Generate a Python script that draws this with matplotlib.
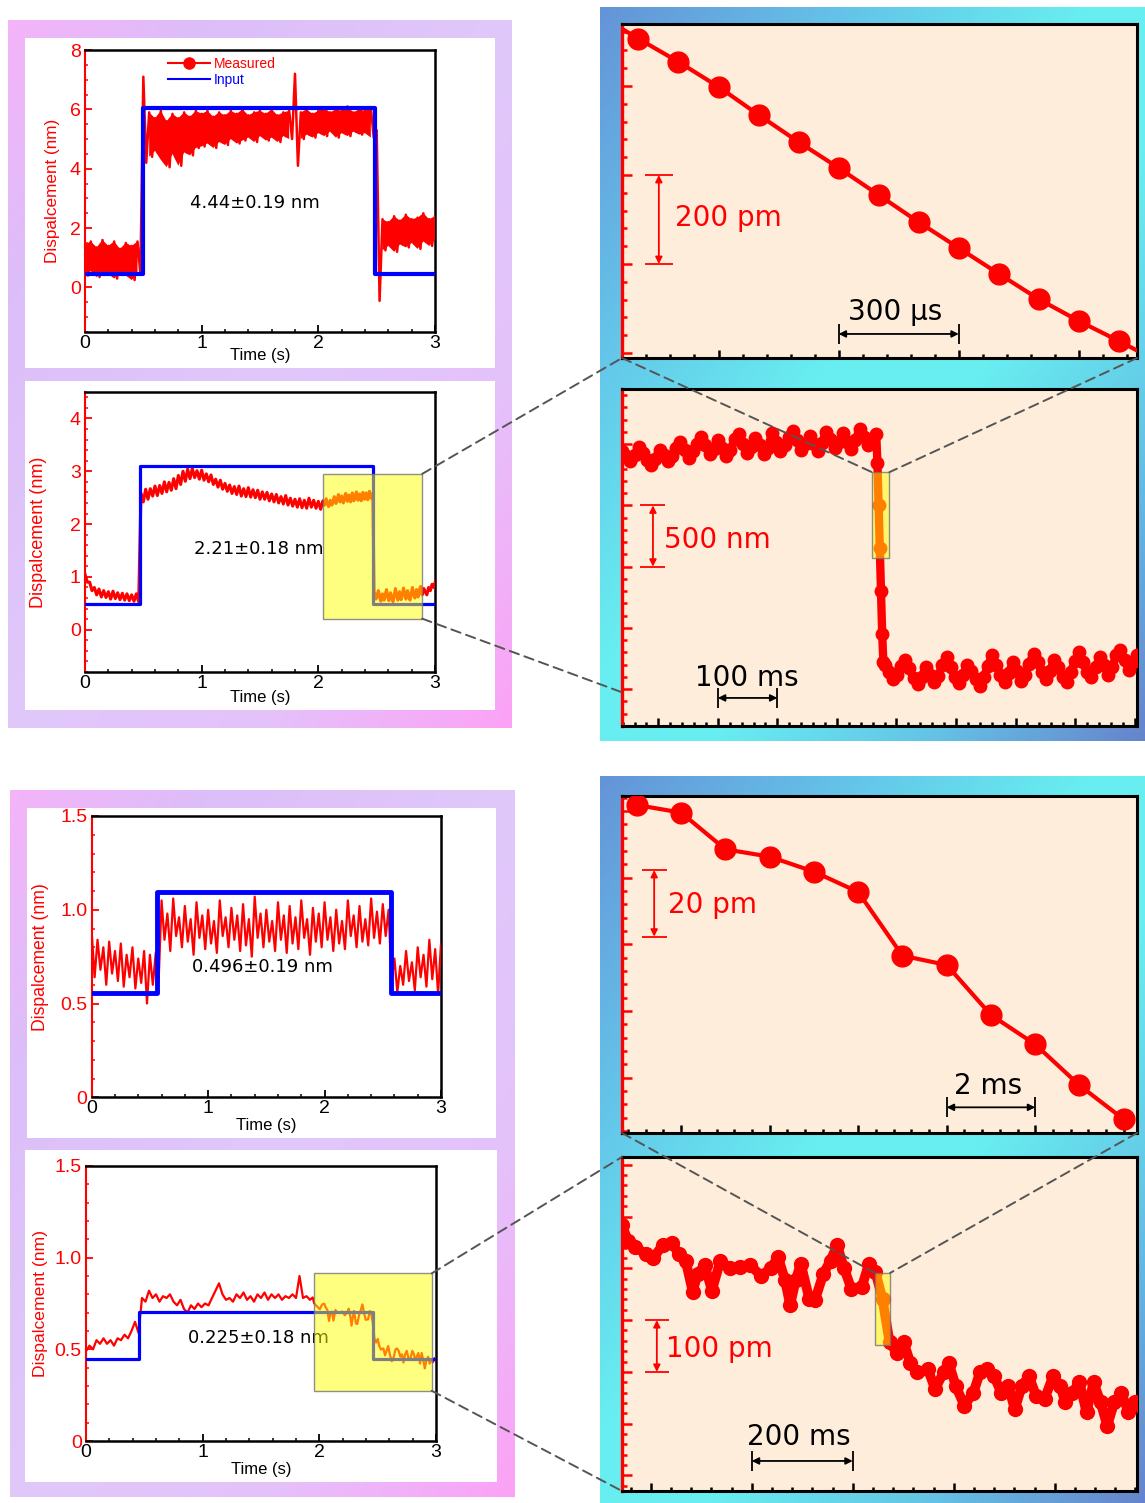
import numpy as np
import matplotlib
matplotlib.use("Agg")
import matplotlib.pyplot as plt
from matplotlib.colors import LinearSegmentedColormap
from matplotlib.patches import Rectangle, ConnectionPatch
from matplotlib.lines import Line2D
from matplotlib.ticker import MultipleLocator, FuncFormatter

plt.rcParams['font.family'] = ['Liberation Sans', 'DejaVu Sans']

# ---------------- data ----------------
# step 1 (4.44 nm): upper / lower edge of the noisy trace every 50 ms
s1_t = np.arange(61) * 0.05
s1_hi = [1.45, 1.55, 1.35, 1.60, 1.40, 1.55, 1.30, 1.50, 1.40, 1.55,
         7.10,
         5.90, 5.70, 5.95, 5.60, 5.85, 5.70, 5.90, 5.75, 5.95,
         5.85, 5.95, 5.75, 5.90, 5.80, 5.95, 5.85, 6.00, 5.80, 5.90, 5.95, 5.85, 6.00, 5.80, 5.90, 5.95,
         7.20,
         5.90, 6.00, 5.85, 5.95, 6.05, 5.90, 6.00, 5.95, 6.10, 5.90, 6.00, 5.95, 6.05,
         5.30,
         2.30, 2.20, 2.40, 2.25, 2.45, 2.30, 2.35, 2.50, 2.30, 2.40]
s1_lo = [0.40, 0.55, 0.35, 0.50, 0.45, 0.30, 0.50, 0.40, 0.25, 0.45,
         4.20,
         4.40, 4.60, 4.30, 4.05, 4.50, 4.10, 4.55, 4.45, 4.70,
         4.75, 4.85, 4.70, 4.90, 4.80, 5.00, 4.85, 4.95, 5.05, 4.90, 5.10, 4.95, 5.05, 4.90, 5.10, 5.00,
         4.10,
         5.00, 5.15, 5.05, 5.20, 5.10, 5.25, 5.05, 5.20, 5.10, 5.25, 5.15, 5.20, 5.05,
         -0.45,
         1.25, 1.40, 1.20, 1.45, 1.35, 1.50, 1.30, 1.55, 1.40, 1.60]
s1_input = (0.45, 6.05, 0.494, 2.486)      # low, high, on, off

# step 2 (2.21 nm): edges every 40 ms up to 2 s
s2_t = np.arange(51) * 0.04
s2_hi = [1.05, 0.90, 0.80, 0.77, 0.74, 0.72, 0.73, 0.70, 0.69, 0.68, 0.66, 0.68,
         2.58, 2.66, 2.67, 2.72, 2.73, 2.80, 2.79, 2.86, 2.92, 3.00, 3.04, 3.05, 3.01,
         3.02, 2.95, 2.93, 2.85, 2.83, 2.77, 2.74, 2.71, 2.72, 2.67, 2.69, 2.65, 2.64,
         2.61, 2.60, 2.57, 2.56, 2.52, 2.54, 2.49, 2.47, 2.48, 2.45, 2.49, 2.45, 2.43]
s2_lo = [0.90, 0.74, 0.66, 0.62, 0.61, 0.58, 0.59, 0.57, 0.56, 0.55, 0.54, 0.53,
         2.42, 2.47, 2.53, 2.54, 2.58, 2.61, 2.64, 2.67, 2.75, 2.81, 2.86, 2.88, 2.85,
         2.83, 2.80, 2.75, 2.70, 2.66, 2.62, 2.58, 2.56, 2.53, 2.52, 2.51, 2.50, 2.47,
         2.47, 2.44, 2.42, 2.40, 2.38, 2.36, 2.34, 2.32, 2.31, 2.30, 2.32, 2.30, 2.28]
s2_input = (0.48, 3.10, 0.471, 2.466)
s2_box = (2.04, 2.89, 0.21, 2.95)          # t0, t1, y0, y1

# step 2, 2.04-2.90 s in ms / pm
z2_upper = [2440, 2400, 2360, 2410, 2480, 2430, 2370, 2330, 2380, 2450,
            2410, 2360, 2400, 2470, 2520, 2450, 2390, 2440, 2500, 2560,
            2490, 2420, 2460, 2530, 2470, 2400, 2450, 2540, 2580, 2500,
            2430, 2480, 2550, 2490, 2420, 2470, 2590, 2520, 2440, 2490,
            2560, 2610, 2530, 2450, 2500, 2570, 2500, 2440, 2510, 2600,
            2540, 2470, 2520, 2590, 2520, 2460, 2530, 2620, 2560, 2490,
            2540, 2580]
z2_drop_t = [2468, 2470, 2472, 2474, 2476, 2478]
z2_drop = [2350, 2000, 1650, 1300, 950, 720]
z2_lower = [700, 640, 580, 620, 690, 740, 670, 590, 540, 600,
            680, 620, 560, 610, 700, 760, 680, 600, 550, 620,
            700, 650, 580, 530, 600, 690, 780, 700, 620, 560,
            630, 720, 650, 570, 620, 710, 790, 720, 640, 580,
            650, 740, 680, 600, 560, 640, 730, 800, 720, 640,
            600, 680, 760, 700, 620, 680, 780, 820, 740, 660,
            720, 780]
z2_tail_t = [2915, 2930, 2945, 2960, 2975, 2990, 3005]
z2_tail = [720, 660, 800, 740, 860, 800, 930]
z2_box = (2459, 2488, 1575, 2271)

# step 2 fast fall (us / pm)
f2_t = [0, 100, 200, 300, 400, 500, 600, 700, 800, 900, 1000, 1100, 1200, 1300, 1400]
f2_v = [760, 706, 654, 598, 535, 474, 416, 355, 294, 236, 178, 121, 72, 27, -20]

# step 3 (0.496 nm): edges every 50 ms
s3_t = np.arange(61) * 0.05
s3_hi = [0.88, 0.84, 0.80, 0.83, 0.78, 0.82, 0.76, 0.80, 0.74, 0.78, 0.76, 0.77,
         1.05, 0.98, 1.06, 0.96, 1.02, 0.95, 1.04, 0.97, 1.00, 0.94,
         1.05, 0.96, 1.01, 0.97, 1.03, 0.95, 1.07, 0.98, 1.00, 0.94,
         1.04, 0.97, 1.02, 0.96, 1.05, 0.95, 1.01, 0.98, 1.04, 0.96,
         1.00, 0.94, 1.05, 0.97, 1.02, 0.95, 1.06, 0.99, 1.03, 1.00,
         0.74, 0.70, 0.78, 0.72, 0.80, 0.76, 0.84, 0.79, 0.82]
s3_lo = [0.64, 0.68, 0.60, 0.66, 0.62, 0.59, 0.64, 0.58, 0.61, 0.50, 0.60, 0.62,
         0.84, 0.78, 0.86, 0.80, 0.83, 0.76, 0.85, 0.79, 0.82, 0.77,
         0.86, 0.80, 0.84, 0.78, 0.81, 0.75, 0.85, 0.80, 0.83, 0.78,
         0.84, 0.77, 0.82, 0.79, 0.85, 0.76, 0.83, 0.80, 0.84, 0.78,
         0.82, 0.79, 0.86, 0.80, 0.83, 0.81, 0.85, 0.82, 0.86, 0.62,
         0.56, 0.60, 0.62, 0.57, 0.64, 0.59, 0.63, 0.55, 0.60]
s3_input = (0.555, 1.095, 0.563, 2.567)

# step 4 (0.225 nm): trace up to 1.92 s
s4_t = np.arange(65) * 0.03
s4_v = [0.49, 0.52, 0.50, 0.55, 0.53, 0.56, 0.53, 0.55, 0.52, 0.56, 0.55, 0.58, 0.56,
        0.60, 0.65, 0.59, 0.78, 0.76, 0.82, 0.78, 0.80, 0.76, 0.79, 0.78, 0.80, 0.76,
        0.74, 0.77, 0.72, 0.70, 0.74, 0.72, 0.75, 0.73, 0.75, 0.74, 0.78, 0.82, 0.86,
        0.80, 0.77, 0.78, 0.76, 0.80, 0.78, 0.81, 0.77, 0.79, 0.76, 0.80, 0.78, 0.81,
        0.77, 0.80, 0.78, 0.80, 0.77, 0.79, 0.78, 0.80, 0.78, 0.90, 0.78, 0.79, 0.77]
s4_input = (0.445, 0.705, 0.457, 2.457)
s4_box = (1.95, 2.963, 0.274, 0.914)

# step 4, 1.94-3.00 s in ms / pm
z4_t = [1943, 1955, 1969, 1990, 2004, 2024, 2042, 2055, 2069, 2083, 2093, 2107, 2121,
        2138, 2156, 2176, 2197, 2218, 2238, 2252, 2266, 2276, 2287, 2297, 2314, 2325,
        2342, 2356, 2369, 2383, 2397, 2418, 2432, 2445, 2459, 2473, 2487, 2501, 2514,
        2528, 2549, 2563, 2580, 2590, 2604, 2621, 2639, 2652, 2666, 2680, 2694, 2708,
        2721, 2735, 2749, 2763, 2780, 2797, 2811, 2821, 2835, 2849, 2863, 2877, 2891,
        2904, 2918, 2932, 2946, 2960, 2974, 2988, 3002]
z4_v = [783, 753, 741, 728, 719, 745, 749, 728, 715, 655, 690, 706, 657,
        715, 700, 702, 706, 686, 700, 722, 677, 629, 677, 709, 641, 638,
        690, 715, 745, 700, 661, 664, 709, 693, 640, 557, 537, 557, 518,
        499, 505, 467, 499, 518, 473, 435, 460, 499, 505, 492, 460, 473,
        428, 473, 492, 454, 448, 492, 473, 441, 460, 480, 422, 480, 441,
        396, 441, 460, 422, 441, 430, 452, 445]
z4_box = (2444, 2474, 552, 691)

# step 4 fast fall (ms / pm)
f4_t = [1, 2, 3, 4, 5, 6, 7, 8, 9, 10, 11, 12]
f4_v = [81.8, 79.5, 68.5, 66.3, 61.8, 55.7, 36.6, 33.8, 18.8, 10.0, -2.3, -12.5]

labels = ['4.44\u00b10.19 nm', '2.21\u00b10.18 nm', '0.496\u00b10.19 nm', '0.225\u00b10.18 nm']

# ---------------- figure ----------------
W, H = 1145, 1503
fig = plt.figure(figsize=(W / 100, H / 100), dpi=100)
fig.patch.set_facecolor('white')


def box(x0, y0, x1, y1):
    return [x0 / W, 1 - y1 / H, (x1 - x0) / W, (y1 - y0) / H]


purple = LinearSegmentedColormap.from_list(
    'purple', [(0, '#f4b4f8'), (0.2, '#dcbef8'), (0.5, '#e0c8fa'), (0.75, '#e4c2fa'), (1, '#fca2f6')])
cyan = LinearSegmentedColormap.from_list(
    'cyan', [(0, '#6494d8'), (0.25, '#64c8ea'), (0.45, '#68eef0'), (0.6, '#68eef0'),
             (0.8, '#64c4e6'), (1, '#6684cc')])


def frame(x0, y0, x1, y1, cmap):
    ax = fig.add_axes(box(x0, y0, x1, y1), zorder=0)
    u = np.linspace(0, 1, 200)
    v = np.linspace(0, 1, 260)
    ax.imshow((u[None, :] + v[:, None]) / 2, cmap=cmap, aspect='auto',
              extent=(0, 1, 1, 0), interpolation='bilinear')
    ax.axis('off')


def white(x0, y0, x1, y1):
    ax = fig.add_axes(box(x0, y0, x1, y1), zorder=0.5)
    ax.set_facecolor('white')
    ax.set_xticks([])
    ax.set_yticks([])
    for s in ax.spines.values():
        s.set_visible(False)


frame(8, 20, 512, 728, purple)
frame(10, 790, 515, 1497, purple)
frame(600, 7, 1145, 741, cyan)
frame(600, 776, 1145, 1503, cyan)
white(25, 38, 495, 368)
white(25, 381, 495, 710)
white(27, 808, 496, 1138)
white(25, 1150, 497, 1482)


def zigzag(t, hi, lo, dt):
    tt = np.column_stack([t, np.asarray(t) + dt]).ravel()
    vv = np.column_stack([hi, lo]).ravel()
    return tt, vv


def step_input(low, high, t_on, t_off):
    return [0, t_on, t_on, t_off, t_off, 3], [low, low, high, high, low, low]


def left_axes(rect, ylim, ymaj, ymin, fmt, ylab_x, ylab_size, xlab_y):
    ax = fig.add_axes(box(*rect), zorder=2)
    ax.set_facecolor('white')
    ax.set_xlim(0, 3)
    ax.set_ylim(*ylim)
    ax.xaxis.set_major_locator(MultipleLocator(1))
    ax.xaxis.set_minor_locator(MultipleLocator(0.2))
    ax.yaxis.set_major_locator(MultipleLocator(ymaj))
    ax.yaxis.set_minor_locator(MultipleLocator(ymin))
    ax.yaxis.set_major_formatter(FuncFormatter(fmt))
    ax.tick_params(which='both', direction='in', top=False, right=False)
    ax.tick_params(which='major', length=5, width=1.3, labelsize=14)
    ax.tick_params(which='minor', length=2.5, width=1.1)
    ax.tick_params(axis='x', which='both', colors='black', pad=2)
    ax.tick_params(axis='y', which='both', colors='red', pad=3)
    for s in ('top', 'right', 'bottom'):
        ax.spines[s].set_linewidth(1.8)
        ax.spines[s].set_color('black')
    ax.spines['left'].set_color('red')
    ax.spines['left'].set_linewidth(1.5)
    ax.set_ylabel('Dispalcement (nm)', color='red', fontsize=ylab_size, va='center')
    ax.yaxis.set_label_coords(ylab_x, 0.5)
    ax.set_xlabel('Time (s)', fontsize=12, va='center')
    ax.xaxis.set_label_coords(0.5, xlab_y)
    return ax


def right_axes(rect, xlim, ylim, xmaj, xmin, ymaj, ymin):
    ax = fig.add_axes(box(*rect), zorder=2)
    ax.set_facecolor('#ffeddb')
    ax.set_xlim(*xlim)
    ax.set_ylim(*ylim)
    ax.xaxis.set_major_locator(MultipleLocator(xmaj))
    ax.xaxis.set_minor_locator(MultipleLocator(xmin))
    ax.yaxis.set_major_locator(MultipleLocator(ymaj))
    ax.yaxis.set_minor_locator(MultipleLocator(ymin))
    ax.tick_params(which='both', direction='in', top=False, right=False,
                   labelleft=False, labelbottom=False)
    ax.tick_params(axis='y', which='major', length=7, width=1.8, colors='red')
    ax.tick_params(axis='y', which='minor', length=3.5, width=1.8, colors='red')
    ax.tick_params(axis='x', which='major', length=6, width=1.8, colors='black')
    ax.tick_params(axis='x', which='minor', length=3, width=1.8, colors='black')
    for s in ('top', 'right', 'bottom'):
        ax.spines[s].set_linewidth(2.2)
        ax.spines[s].set_color('black')
    ax.spines['left'].set_color('red')
    ax.spines['left'].set_linewidth(2.4)
    return ax


def yellow_box(ax, t0, t1, y0, y1):
    ax.add_patch(Rectangle((t0, y0), t1 - t0, y1 - y0, facecolor=(1, 1, 0, 0.5),
                           edgecolor=(0.45, 0.45, 0.45, 0.8), lw=1.0, zorder=6))


def vbar(ax, x, y0, y1, half):
    ax.annotate('', xy=(x, y1), xytext=(x, y0),
                arrowprops=dict(arrowstyle='<|-|>', color='red', lw=1.3,
                                mutation_scale=10, shrinkA=0, shrinkB=0))
    ax.hlines([y0, y1], x - half, x + half, color='red', lw=1.3)


def hbar(ax, x0, x1, y, half):
    ax.annotate('', xy=(x1, y), xytext=(x0, y),
                arrowprops=dict(arrowstyle='<|-|>', color='black', lw=1.3,
                                mutation_scale=10, shrinkA=0, shrinkB=0))
    ax.vlines([x0, x1], y - half, y + half, color='black', lw=1.3)


int_fmt = lambda v, p: f'{v:.0f}'
half_fmt = lambda v, p: '0' if abs(v) < 1e-9 else f'{v:.1f}'
note = dict(family=['DejaVu Sans'], fontsize=13, ha='center', va='center', color='black')
bar_txt = dict(family=['DejaVu Sans'], fontsize=20)

# ---- step 1 ----
ax1 = left_axes((85, 50, 435, 332), (-1.5, 8), 2, 0.5, int_fmt, -0.094, 12.3, -0.082)
hi1, lo1 = np.asarray(s1_hi), np.asarray(s1_lo)
ax1.fill_between(s1_t, lo1, hi1, where=(hi1 - lo1) < 2, color='red', lw=0, zorder=3)
tt, vv = zigzag(s1_t, s1_hi, s1_lo, 0.025)
ax1.plot(tt, vv, color='red', lw=1.8, zorder=3)
xi, yi = step_input(*s1_input)
ax1.plot(xi, yi, color='blue', lw=3.0, zorder=4)
ax1.text(1.457, 2.86, labels[0], **note)
handles = [Line2D([], [], color='red', marker='o', ms=8, lw=1.5),
           Line2D([], [], color='blue', lw=1.5)]
ax1.legend(handles, ['Measured', 'Input'], loc='upper left', bbox_to_anchor=(0.21, 1.01),
           frameon=False, fontsize=10, labelcolor='linecolor', handlelength=3.0,
           handletextpad=0.3, labelspacing=0.15, borderpad=0.2)

# ---- step 2 ----
ax2 = left_axes((85, 392, 435, 672), (-0.8, 4.5), 1, 0.2, int_fmt, -0.133, 13, -0.091)
z2_t = np.concatenate([np.linspace(2039, 2466, len(z2_upper)), z2_drop_t,
                       np.linspace(2480, 2904, len(z2_lower)), z2_tail_t])
z2_v = np.concatenate([z2_upper, z2_drop, z2_lower, z2_tail])
tt, vv = zigzag(s2_t, s2_hi, s2_lo, 0.02)
ax2.plot(np.concatenate([tt, z2_t / 1000]), np.concatenate([vv, z2_v / 1000]),
         color='red', lw=2.2, zorder=3)
xi, yi = step_input(*s2_input)
ax2.plot(xi, yi, color='blue', lw=2.3, zorder=4)
ax2.text(1.49, 1.53, labels[1], **note)
yellow_box(ax2, s2_box[0], s2_box[1], s2_box[2], s2_box[3])

# zoom of step 2
ax2z = right_axes((622, 389, 1137, 726), (2039, 2904), (200, 2950), 100, 20, 500, 100)
ax2z.plot(z2_t, z2_v, color='red', lw=6, marker='o', ms=9, zorder=3)
yellow_box(ax2z, z2_box[0], z2_box[1], z2_box[2], z2_box[3])
vbar(ax2z, 2091, 1500, 2000, 21)
ax2z.text(2110, 1654, '500 nm', color='red', ha='left', va='baseline', **bar_txt)
hbar(ax2z, 2200, 2300, 429, 82)
ax2z.text(2248, 527, '100 ms', color='black', ha='center', va='baseline', **bar_txt)

# fast fall of step 2
ax2f = right_axes((622, 24, 1137, 358), (59, 1345), (-11, 739), 300, 60, 200, 40)
ax2f.plot(f2_t, f2_v, color='red', lw=3, marker='o', ms=15, zorder=3)
vbar(ax2f, 151, 200, 400, 35)
ax2f.text(191, 285, '200 pm', color='red', ha='left', va='baseline', **bar_txt)
hbar(ax2f, 600, 900, 43, 22)
ax2f.text(742, 74, '300 \u03bcs', color='black', ha='center', va='baseline', **bar_txt)

# ---- step 3 ----
ax3 = left_axes((91.7, 816, 441, 1097.3), (0, 1.5), 0.5, 0.1, half_fmt, -0.148, 12.7, -0.101)
tt, vv = zigzag(s3_t, s3_hi, s3_lo, 0.025)
ax3.plot(tt, vv, color='red', lw=1.6, zorder=3)
xi, yi = step_input(*s3_input)
ax3.plot(xi, yi, color='blue', lw=3.5, zorder=4)
ax3.text(1.47, 0.693, labels[2], **note)

# ---- step 4 ----
ax4 = left_axes((86, 1166, 436, 1441), (0, 1.5), 0.5, 0.1, half_fmt, -0.13, 12.6, -0.102)
z4_tt = np.asarray(z4_t, dtype=float)
z4_vv = np.asarray(z4_v, dtype=float)
ax4.plot(np.concatenate([s4_t, z4_tt / 1000]), np.concatenate([s4_v, z4_vv / 1000]),
         color='red', lw=1.6, zorder=3)
xi, yi = step_input(*s4_input)
ax4.plot(xi, yi, color='blue', lw=2.3, zorder=4)
ax4.text(1.474, 0.561, labels[3], **note)
yellow_box(ax4, s4_box[0], s4_box[1], s4_box[2], s4_box[3])

# zoom of step 4
ax4z = right_axes((622, 1157, 1137, 1491), (1943, 2963), (270, 915), 200, 40, 100, 20)
ax4z.plot(z4_tt, z4_vv, color='red', lw=7, marker='o', ms=10, zorder=3)
yellow_box(ax4z, z4_box[0], z4_box[1], z4_box[2], z4_box[3])
vbar(ax4z, 2012, 500, 600, 24)
ax4z.text(2030, 529, '100 pm', color='red', ha='left', va='baseline', **bar_txt)
hbar(ax4z, 2200, 2400, 328, 19)
ax4z.text(2294, 358, '200 ms', color='black', ha='center', va='baseline', **bar_txt)

# fast fall of step 4
ax4f = right_axes((622, 796, 1137, 1133), (0.663, 12.3), (-16.6, 84.5), 2, 0.4, 20, 4)
ax4f.plot(f4_t, f4_v, color='red', lw=3, marker='o', ms=15, zorder=3)
vbar(ax4f, 1.39, 42.3, 62.3, 0.28)
ax4f.text(1.70, 49.5, '20 pm', color='red', ha='left', va='baseline', **bar_txt)
hbar(ax4f, 8, 10, -8.9, 3.0)
ax4f.text(8.94, -4.9, '2 ms', color='black', ha='center', va='baseline', **bar_txt)

# ---- dashed zoom connectors ----
dash = dict(color='#555555', lw=1.4, linestyle=(0, (5, 3)))
links = [
    ((s2_box[1], s2_box[3]), 'data', ax2, (0, 0), 'axes fraction', ax2f),
    ((s2_box[1], s2_box[2]), 'data', ax2, (0, 0.1), 'axes fraction', ax2z),
    ((0, 0), 'axes fraction', ax2f, (z2_box[0], z2_box[3]), 'data', ax2z),
    ((1, 0), 'axes fraction', ax2f, (z2_box[1], z2_box[3]), 'data', ax2z),
    ((s4_box[1], s4_box[3]), 'data', ax4, (0, 1), 'axes fraction', ax4z),
    ((s4_box[1], s4_box[2]), 'data', ax4, (0, 0), 'axes fraction', ax4z),
    ((0, 0), 'axes fraction', ax4f, (z4_box[0], z4_box[3]), 'data', ax4z),
    ((1, 0), 'axes fraction', ax4f, (z4_box[1], z4_box[3]), 'data', ax4z),
]
for xyA, cA, axA, xyB, cB, axB in links:
    con = ConnectionPatch(xyA=xyA, coordsA=cA, axesA=axA, xyB=xyB, coordsB=cB, axesB=axB, **dash)
    con.set_zorder(10)
    fig.add_artist(con)

fig.savefig('out.png', dpi=100)
